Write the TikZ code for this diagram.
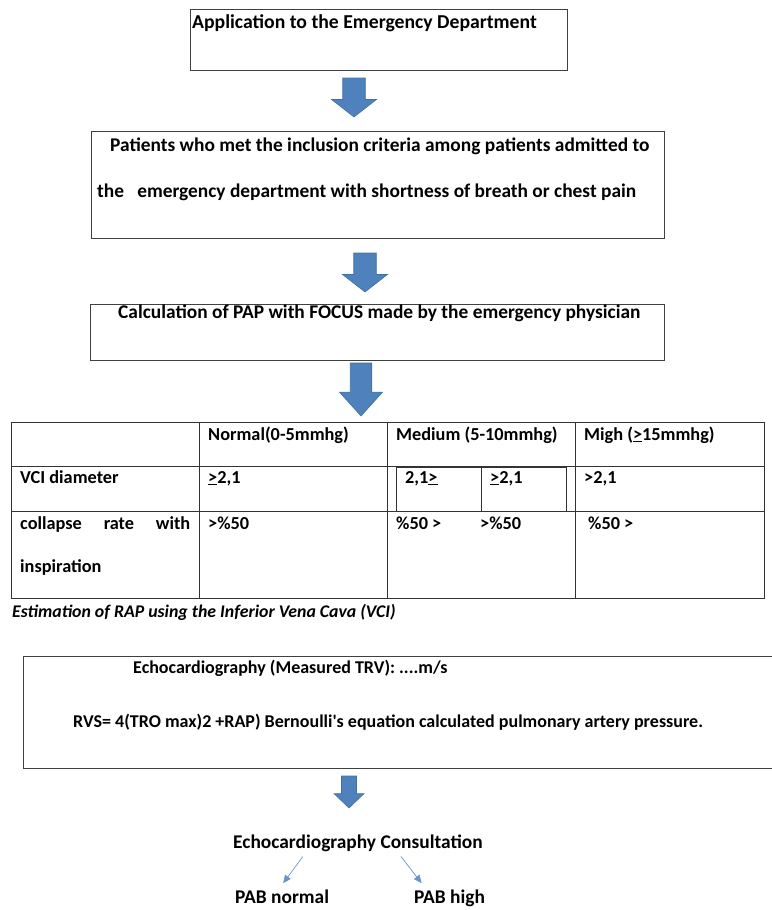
\documentclass[tikz,border=0pt]{standalone}
\usepackage{fontspec}
\setmainfont{Carlito}
\usetikzlibrary{arrows.meta}
\definecolor{officeblue}{HTML}{4F81BD}
\definecolor{officeedge}{HTML}{41719C}
\definecolor{boxline}{HTML}{404040}
\tikzset{
	flowbox/.style={draw=boxline, line width=0.9pt, inner sep=0pt, anchor=north west},
	txt/.style={anchor=base west, inner sep=0pt, font=\fontsize{19.4}{23}\selectfont\bfseries},
	celltxt/.style={txt, font=\fontsize{18.3}{22}\selectfont\bfseries},
	echotxt/.style={txt, font=\fontsize{18}{22}\selectfont\bfseries},
	captxt/.style={txt, font=\fontsize{17.8}{21}\selectfont\bfseries\itshape},
	grid line/.style={draw=black!80, line width=0.9pt},
	thinarrow/.style={draw=officeblue!85, line width=0.7pt, -{Triangle[length=8pt, width=7pt]}},
	pics/downarrow/.style 2 args={code={
		\filldraw[fill=officeblue, draw=officeedge, line width=0.6pt]
		(-#1/4,0) -- (#1/4,0) -- (#1/4,0.55*#2) -- (#1/2,0.55*#2) -- (0,#2)
		-- (-#1/2,0.55*#2) -- (-#1/4,0.55*#2) -- cycle;
	}}
}

\begin{document}
\begin{tikzpicture}[x=1pt,y=-1pt]
		\useasboundingbox (0,0) rectangle (771,910);
		
		% flow boxes
		\node[flowbox, minimum width=377pt, minimum height=61pt] (entry) at (190,9) {};
		\node[flowbox, minimum width=573pt, minimum height=107pt] (criteria) at (91,131) {};
		\node[flowbox, minimum width=574pt, minimum height=56pt] (calc) at (90,304) {};
		\node[flowbox, minimum width=760pt, minimum height=112pt] (echo) at (23,656) {};
		
		\node[txt, font=\fontsize{19.7}{23}\selectfont\bfseries] (entrytxt) at (192,28) {Application to the Emergency Department};
		\node[txt] (crit1) at (110,151) {Patients who met the inclusion criteria among patients admitted to};
		\node[txt] (crit2) at (97,197) {the~~~emergency department with shortness of breath or chest pain};
		\node[txt] (calctxt) at (118,318) {Calculation of PAP with FOCUS made by the emergency physician};
		
		% block arrows
		\pic at (354,78) {downarrow={45}{39}};
		\pic at (365,253) {downarrow={45}{39}};
		\pic at (361,363) {downarrow={43}{53}};
		\pic at (349,776) {downarrow={30}{32}};
		
		% table
		\draw[grid line] (11,422) rectangle (764,598);
		\foreach \x in {199,387,575}
			\draw[grid line] (\x,422) -- (\x,598);
		\foreach \y in {466,511}
			\draw[grid line] (11,\y) -- (764,\y);
		\draw[grid line] (396,467) rectangle (566,511);
		\draw[grid line] (481,467) -- (481,511);
		
		\node[celltxt] (hdrN) at (208,440) {Normal(0-5mmhg)};
		\node[celltxt] (hdrM) at (396,440) {Medium (5-10mmhg)};
		\node[celltxt] (hdrH) at (584,440) {Migh (\underline{>}15mmhg)};
		
		\node[celltxt] (vciL) at (20,483) {VCI diameter};
		\node[celltxt] (vciN) at (208,483) {\underline{>}2,1};
		\node[celltxt] (vciM1) at (405,483) {2,1\underline{>}};
		\node[celltxt] (vciM2) at (490,483) {\underline{>}2,1};
		\node[celltxt] (vciH) at (584,483) {>2,1};
		
		\node[celltxt] (colL) at (20,529) {\makebox[170pt][s]{collapse rate with}};
		\node[celltxt] (colL2) at (20,572) {inspiration};
		\node[celltxt] (colN) at (208,529) {>\%50};
		\node[celltxt] (colM1) at (396,529) {\%50 >};
		\node[celltxt] (colM2) at (480,529) {>\%50};
		\node[celltxt] (colH) at (588,529) {\%50 >};
		
		\node[captxt] (tabcap) at (12,617) {Estimation of RAP using the Inferior Vena Cava (VCI)};
		
		% echocardiography
		\node[echotxt] (echo1) at (133,673) {Echocardiography (Measured TRV): ....m/s};
		\node[echotxt] (echo2) at (73,727) {RVS= 4(TRO max)2 +RAP) Bernoulli\textquotesingle s equation calculated pulmonary artery pressure.};
		
		\node[txt] (consult) at (233,848) {Echocardiography Consultation};
		\node[txt] (pabn) at (235,903) {PAB normal};
		\node[txt] (pabh) at (414,903) {PAB high};
		
		\draw[thinarrow] ([xshift=-55pt,yshift=-5pt]consult.south) -- ([xshift=1pt,yshift=6pt]pabn.north);
		\draw[thinarrow] ([xshift=43pt,yshift=-5pt]consult.south) -- ([xshift=-28pt,yshift=6pt]pabh.north);
	\end{tikzpicture}
\end{document}
